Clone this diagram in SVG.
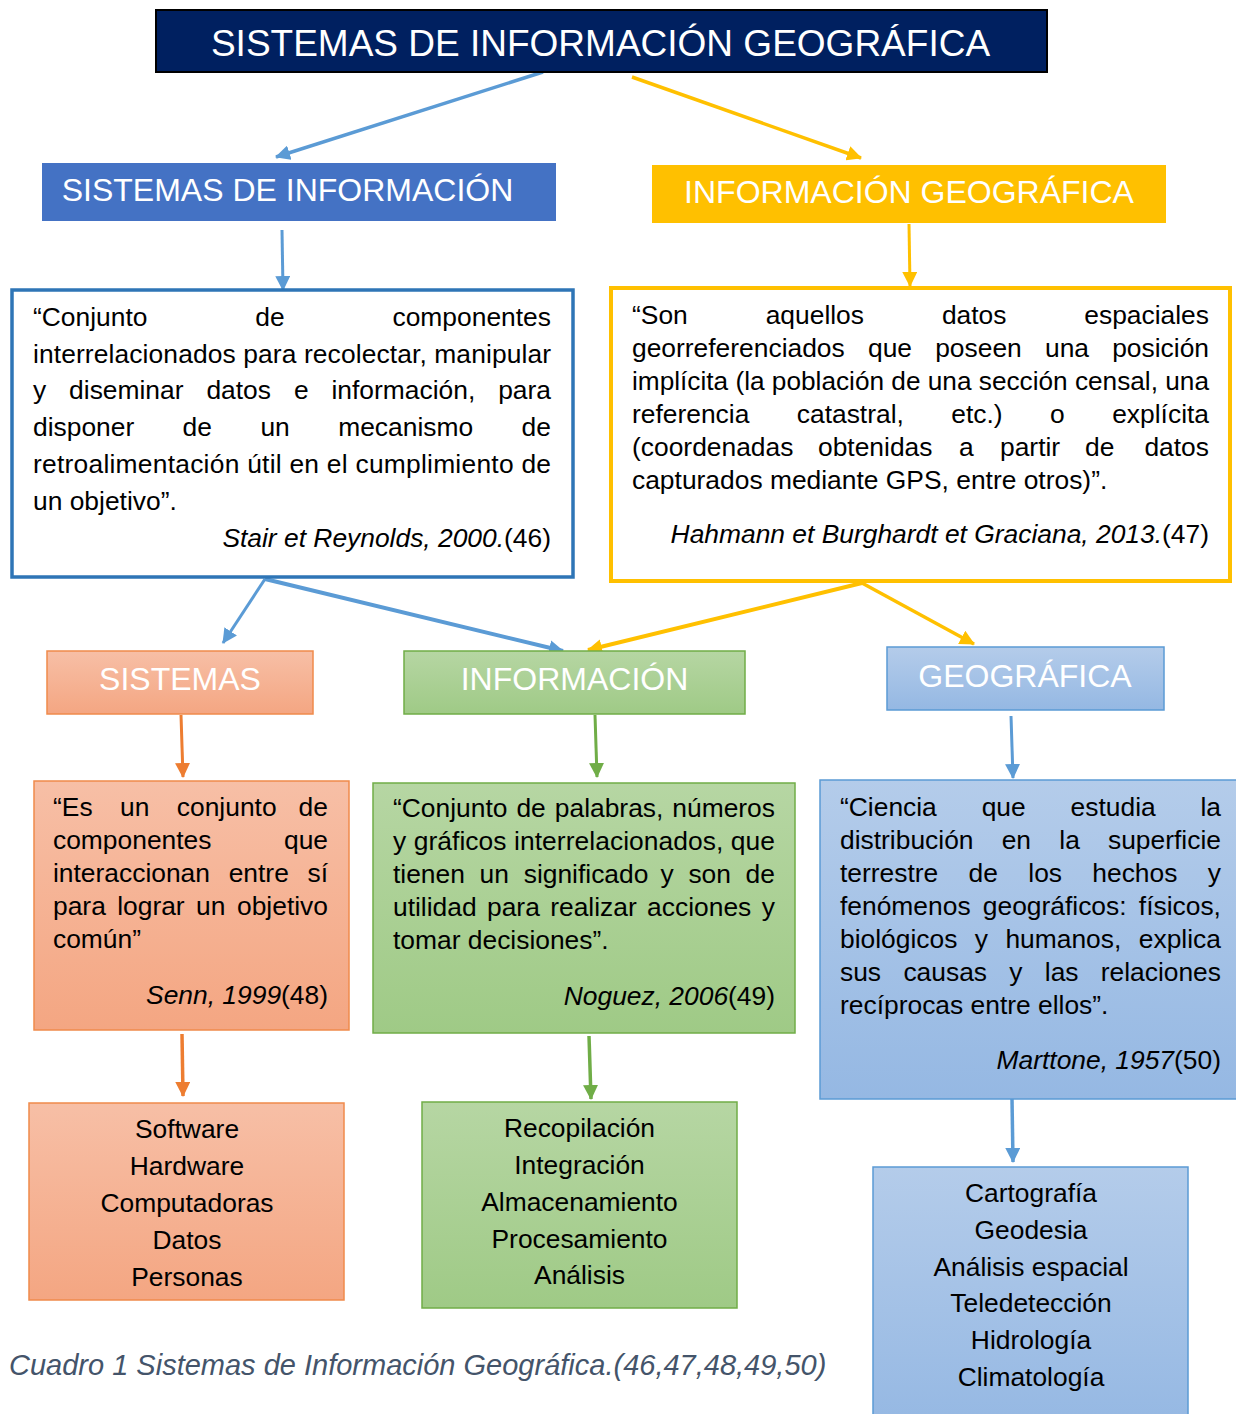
<svg xmlns="http://www.w3.org/2000/svg" width="1236" height="1414" viewBox="0 0 1236 1414">
<style>
text{font-family:'Liberation Sans',Arial,sans-serif}
.t{font-size:26.4px;fill:#000}
.hd{font-size:32px;fill:#fff;text-anchor:middle}
.c{text-anchor:middle}
.e{text-anchor:end}
.it{font-style:italic}
.ln{fill:none;stroke-linecap:butt}
.bl{stroke:#5B9BD5}
.yl{stroke:#FFC000}
.or{stroke:#ED7D31}
.gr{stroke:#70AD47}
</style>
<defs>
<linearGradient id="gOr" x1="0" y1="0" x2="0" y2="1"><stop offset="0" stop-color="#F7BFA6"/><stop offset="1" stop-color="#F4A682"/></linearGradient>
<linearGradient id="gGr" x1="0" y1="0" x2="0" y2="1"><stop offset="0" stop-color="#B6D6A3"/><stop offset="1" stop-color="#9FCA86"/></linearGradient>
<linearGradient id="gBl" x1="0" y1="0" x2="0" y2="1"><stop offset="0" stop-color="#B4CCEA"/><stop offset="1" stop-color="#95B8E3"/></linearGradient>
<marker id="aBl" viewBox="0 0 15 15" refX="14" refY="7.5" markerWidth="15" markerHeight="15" markerUnits="userSpaceOnUse" orient="auto"><path d="M0,0 L15,7.5 L0,15 z" fill="#5B9BD5"/></marker>
<marker id="aYl" viewBox="0 0 15 15" refX="14" refY="7.5" markerWidth="15" markerHeight="15" markerUnits="userSpaceOnUse" orient="auto"><path d="M0,0 L15,7.5 L0,15 z" fill="#FFC000"/></marker>
<marker id="aOr" viewBox="0 0 15 15" refX="14" refY="7.5" markerWidth="15" markerHeight="15" markerUnits="userSpaceOnUse" orient="auto"><path d="M0,0 L15,7.5 L0,15 z" fill="#ED7D31"/></marker>
<marker id="aGr" viewBox="0 0 15 15" refX="14" refY="7.5" markerWidth="15" markerHeight="15" markerUnits="userSpaceOnUse" orient="auto"><path d="M0,0 L15,7.5 L0,15 z" fill="#70AD47"/></marker>
</defs>
<rect width="1236" height="1414" fill="#fff"/>

<g id="connectors">
<line class="ln bl" x1="543" y1="72" x2="276" y2="157" stroke-width="3.5" marker-end="url(#aBl)"/>
<line class="ln yl" x1="632" y1="77" x2="861" y2="158" stroke-width="3.5" marker-end="url(#aYl)"/>
<line class="ln bl" x1="282" y1="230" x2="283" y2="290" stroke-width="3" marker-end="url(#aBl)"/>
<line class="ln yl" x1="909" y1="224" x2="910" y2="286" stroke-width="3" marker-end="url(#aYl)"/>
<line class="ln bl" x1="265" y1="579" x2="223" y2="643" stroke-width="3" marker-end="url(#aBl)"/>
<line class="ln bl" x1="265" y1="579" x2="563" y2="651" stroke-width="4" marker-end="url(#aBl)"/>
<line class="ln yl" x1="862" y1="583" x2="588" y2="650" stroke-width="4" marker-end="url(#aYl)"/>
<line class="ln yl" x1="862" y1="583" x2="974" y2="644" stroke-width="3.5" marker-end="url(#aYl)"/>
<line class="ln or" x1="181" y1="715" x2="183" y2="777" stroke-width="3" marker-end="url(#aOr)"/>
<line class="ln gr" x1="595" y1="715" x2="597" y2="777" stroke-width="3" marker-end="url(#aGr)"/>
<line class="ln bl" x1="1011" y1="716" x2="1013" y2="778" stroke-width="3" marker-end="url(#aBl)"/>
<line class="ln or" x1="182" y1="1034" x2="183" y2="1096" stroke-width="3.5" marker-end="url(#aOr)"/>
<line class="ln gr" x1="589" y1="1036" x2="591" y2="1099" stroke-width="3.5" marker-end="url(#aGr)"/>
<line class="ln bl" x1="1012" y1="1099" x2="1013" y2="1162" stroke-width="3.5" marker-end="url(#aBl)"/>
</g>

<g id="title">
<rect x="156" y="10" width="891" height="62" fill="#002060" stroke="#000" stroke-width="2"/>
<text x="600.5" y="56" class="c" font-size="37" fill="#fff">SISTEMAS DE INFORMACIÓN GEOGRÁFICA</text>
</g>

<g id="sistemas-de-informacion">
<rect x="42" y="163" width="514" height="58" fill="#4472C4"/>
<text x="287.5" y="201" class="hd">SISTEMAS DE INFORMACIÓN</text>
</g>

<g id="informacion-geografica">
<rect x="652" y="165" width="514" height="58" fill="#FFC000"/>
<text x="909" y="203" class="hd">INFORMACIÓN GEOGRÁFICA</text>
</g>

<g id="def-si">
<rect x="12" y="290" width="561" height="287" fill="#fff" stroke="#2E75B6" stroke-width="3.5"/>
<text class="t" y="326"><tspan x="33">“Conjunto</tspan><tspan x="255.3">de</tspan><tspan x="392.5">componentes</tspan></text>
<text class="t" x="33" y="363" textLength="518" lengthAdjust="spacing">interrelacionados para recolectar, manipular</text>
<text class="t" y="399"><tspan x="33">y</tspan><tspan x="69.1">diseminar</tspan><tspan x="206.4">datos</tspan><tspan x="293.9">e</tspan><tspan x="331.5">información,</tspan><tspan x="498.2">para</tspan></text>
<text class="t" y="436"><tspan x="33">disponer</tspan><tspan x="182.6">de</tspan><tspan x="260.4">un</tspan><tspan x="338.2">mecanismo</tspan><tspan x="521.6">de</tspan></text>
<text class="t" x="33" y="473" textLength="518" lengthAdjust="spacing">retroalimentación útil en el cumplimiento de</text>
<text class="t" x="33" y="510">un objetivo”.</text>
<text class="t e" x="551" y="547"><tspan class="it">Stair et Reynolds, 2000.</tspan>(46)</text>
</g>

<g id="def-ig">
<rect x="611" y="288" width="619" height="293" fill="#fff" stroke="#FFC000" stroke-width="4"/>
<text class="t" y="324"><tspan x="632">“Son</tspan><tspan x="765.7">aquellos</tspan><tspan x="941.9">datos</tspan><tspan x="1084.3">espaciales</tspan></text>
<text class="t" y="357"><tspan x="632">georreferenciados</tspan><tspan x="868">que</tspan><tspan x="935.2">poseen</tspan><tspan x="1045">una</tspan><tspan x="1112.2">posición</tspan></text>
<text class="t" x="632" y="390" textLength="577" lengthAdjust="spacingAndGlyphs">implícita (la población de una sección censal, una</text>
<text class="t" y="423"><tspan x="632">referencia</tspan><tspan x="796.8">catastral,</tspan><tspan x="951.3">etc.)</tspan><tspan x="1050">o</tspan><tspan x="1112.2">explícita</tspan></text>
<text class="t" y="456"><tspan x="632">(coordenadas</tspan><tspan x="818">obtenidas</tspan><tspan x="959">a</tspan><tspan x="1000">partir</tspan><tspan x="1085">de</tspan><tspan x="1144.4">datos</tspan></text>
<text class="t" x="632" y="489">capturados mediante GPS, entre otros)”.</text>
<text class="t e" x="1209" y="543"><tspan class="it">Hahmann et Burghardt et Graciana, 2013.</tspan>(47)</text>
</g>

<g id="sistemas">
<rect x="47" y="651" width="266" height="63" fill="url(#gOr)" stroke="#F08A4B" stroke-width="1.5"/>
<text x="180" y="690" class="hd">SISTEMAS</text>
</g>

<g id="informacion">
<rect x="404" y="651" width="341" height="63" fill="url(#gGr)" stroke="#70AD47" stroke-width="1.5"/>
<text x="574.5" y="690" class="hd">INFORMACIÓN</text>
</g>

<g id="geografica">
<rect x="887" y="647" width="277" height="63" fill="url(#gBl)" stroke="#5B9BD5" stroke-width="1.5"/>
<text x="1025" y="687" class="hd">GEOGRÁFICA</text>
</g>

<g id="def-sistemas">
<rect x="34" y="781" width="315" height="249" fill="url(#gOr)" stroke="#F08A4B" stroke-width="1.5"/>
<text class="t" y="816"><tspan x="53">“Es</tspan><tspan x="120">un</tspan><tspan x="176.8">conjunto</tspan><tspan x="298.6">de</tspan></text>
<text class="t" y="849"><tspan x="53">componentes</tspan><tspan x="284">que</tspan></text>
<text class="t" y="882"><tspan x="53">interaccionan</tspan><tspan x="228.7">entre</tspan><tspan x="307.5">sí</tspan></text>
<text class="t" y="915"><tspan x="53">para</tspan><tspan x="117.2">lograr</tspan><tspan x="196.1">un</tspan><tspan x="237">objetivo</tspan></text>
<text class="t" x="53" y="948">común”</text>
<text class="t e" x="328" y="1004"><tspan class="it">Senn, 1999</tspan>(48)</text>
</g>

<g id="def-informacion">
<rect x="373" y="783" width="422" height="250" fill="url(#gGr)" stroke="#70AD47" stroke-width="1.5"/>
<text class="t" y="817"><tspan x="393">“Conjunto</tspan><tspan x="516.4">de</tspan><tspan x="554.8">palabras,</tspan><tspan x="672.3">números</tspan></text>
<text class="t" x="393" y="850" textLength="382" lengthAdjust="spacing">y gráficos interrelacionados, que</text>
<text class="t" y="883"><tspan x="393">tienen</tspan><tspan x="479.6">un</tspan><tspan x="523.7">significado</tspan><tspan x="660.5">y</tspan><tspan x="688.4">son</tspan><tspan x="745.6">de</tspan></text>
<text class="t" y="916"><tspan x="393">utilidad</tspan><tspan x="487">para</tspan><tspan x="550.2">realizar</tspan><tspan x="647.1">acciones</tspan><tspan x="761.8">y</tspan></text>
<text class="t" x="393" y="949">tomar decisiones”.</text>
<text class="t e" x="775" y="1005"><tspan class="it">Noguez, 2006</tspan>(49)</text>
</g>

<g id="def-geografica">
<rect x="820" y="780" width="420" height="319" fill="url(#gBl)" stroke="#5B9BD5" stroke-width="1.5"/>
<text class="t" y="816"><tspan x="840">“Ciencia</tspan><tspan x="981.7">que</tspan><tspan x="1070.6">estudia</tspan><tspan x="1200.5">la</tspan></text>
<text class="t" y="849"><tspan x="840">distribución</tspan><tspan x="1001.7">en</tspan><tspan x="1059.3">la</tspan><tspan x="1108">superficie</tspan></text>
<text class="t" y="882"><tspan x="840">terrestre</tspan><tspan x="968.6">de</tspan><tspan x="1028.3">los</tspan><tspan x="1092.3">hechos</tspan><tspan x="1207.8">y</tspan></text>
<text class="t" y="915"><tspan x="840">fenómenos</tspan><tspan x="982.8">geográficos:</tspan><tspan x="1138.8">físicos,</tspan></text>
<text class="t" y="948"><tspan x="840">biológicos</tspan><tspan x="974.8">y</tspan><tspan x="1005.4">humanos,</tspan><tspan x="1138.8">explica</tspan></text>
<text class="t" y="981"><tspan x="840">sus</tspan><tspan x="903.4">causas</tspan><tspan x="1009.3">y</tspan><tspan x="1044.8">las</tspan><tspan x="1100.7">relaciones</tspan></text>
<text class="t" x="840" y="1014">recíprocas entre ellos”.</text>
<text class="t e" x="1221" y="1069"><tspan class="it">Marttone, 1957</tspan>(50)</text>
</g>

<g id="list-sistemas">
<rect x="29" y="1103" width="315" height="197" fill="url(#gOr)" stroke="#F08A4B" stroke-width="1.5"/>
<text class="t c" x="187" y="1138">Software</text>
<text class="t c" x="187" y="1175">Hardware</text>
<text class="t c" x="187" y="1212">Computadoras</text>
<text class="t c" x="187" y="1249">Datos</text>
<text class="t c" x="187" y="1286">Personas</text>
</g>

<g id="list-informacion">
<rect x="422" y="1102" width="315" height="206" fill="url(#gGr)" stroke="#70AD47" stroke-width="1.5"/>
<text class="t c" x="579.5" y="1137">Recopilación</text>
<text class="t c" x="579.5" y="1174">Integración</text>
<text class="t c" x="579.5" y="1211">Almacenamiento</text>
<text class="t c" x="579.5" y="1248">Procesamiento</text>
<text class="t c" x="579.5" y="1284">Análisis</text>
</g>

<g id="list-geografica">
<rect x="873" y="1167" width="315" height="260" fill="url(#gBl)" stroke="#5B9BD5" stroke-width="1.5"/>
<text class="t c" x="1031" y="1202">Cartografía</text>
<text class="t c" x="1031" y="1239">Geodesia</text>
<text class="t c" x="1031" y="1276">Análisis espacial</text>
<text class="t c" x="1031" y="1312">Teledetección</text>
<text class="t c" x="1031" y="1349">Hidrología</text>
<text class="t c" x="1031" y="1386">Climatología</text>
</g>

<g id="caption">
<text x="9" y="1375" font-size="29" font-style="italic" fill="#44546A">Cuadro 1 Sistemas de Información Geográfica.(46,47,48,49,50)</text>
</g>
</svg>
